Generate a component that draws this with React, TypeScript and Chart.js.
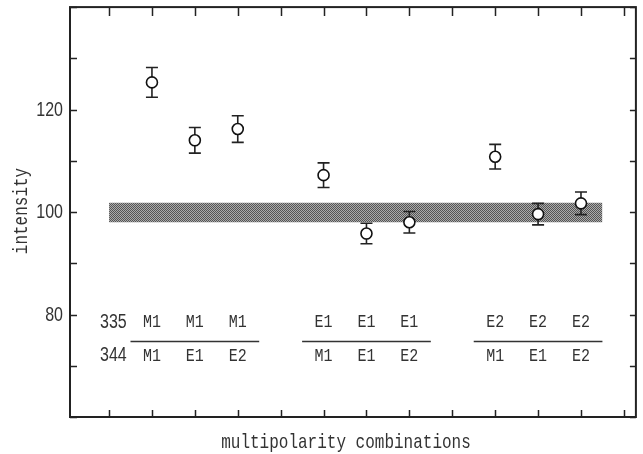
import React, { useEffect, useRef } from 'react';
import { Chart, registerables } from 'chart.js';

Chart.register(...registerables);

// ---- data ----
const positions = [2, 3, 4, 6, 7, 8, 10, 11, 12];
const intensities = [125.3, 114.0, 116.2, 107.2, 95.8, 98.0, 110.8, 99.6, 101.7];
const errors = [2.9, 2.5, 2.6, 2.4, 2.0, 2.1, 2.4, 2.1, 2.2];
const levels = ['335', '344'];
const upperLabels = ['M1', 'M1', 'M1', 'E1', 'E1', 'E1', 'E2', 'E2', 'E2'];
const lowerLabels = ['M1', 'E1', 'E2', 'M1', 'E1', 'E2', 'M1', 'E1', 'E2'];
const bandX = [1, 12.5];
const bandLow = [98.0, 98.0];
const bandHigh = [101.8, 101.8];
const labelledYTicks = [80, 100, 120];
const xTitle = 'multipolarity combinations';
const yTitle = 'intensity';

// annotation placement in data units
const upperRowY = 78.5;
const lowerRowY = 71.9;
const dividerY = 74.8;
const levelLabelX = 1.1;
const groupSize = 3;

const SANS = '"Liberation Sans", Arial, sans-serif';
const MONO = '"Liberation Mono", "DejaVu Sans Mono", monospace';
const INK = '#222';
const TEXT = '#333';
const STRETCH = 1.22;

function makePattern(): CanvasPattern | string {
  const c = document.createElement('canvas');
  c.width = 2;
  c.height = 2;
  const g = c.getContext('2d');
  if (!g) return '#808080';
  g.fillStyle = '#ababab';
  g.fillRect(0, 0, 2, 2);
  g.fillStyle = '#555';
  g.fillRect(0, 0, 1, 1);
  g.fillRect(1, 1, 1, 1);
  const p = g.createPattern(c, 'repeat');
  return p || '#808080';
}

function tallText(ctx: CanvasRenderingContext2D, s: string, x: number, y: number) {
  ctx.save();
  ctx.translate(x, y);
  ctx.scale(1, STRETCH);
  ctx.fillText(s, 0, 0);
  ctx.restore();
}

const decorPlugin = {
  id: 'decor',
  beforeDatasetDraw(chart: any, args: any) {
    if (args.index !== 0) return;
    const { ctx, scales } = chart;
    const xs = scales.x;
    const ys = scales.y;
    ctx.save();
    ctx.strokeStyle = INK;
    ctx.lineWidth = 1.6;
    positions.forEach((xv, i) => {
      const px = xs.getPixelForValue(xv);
      const top = ys.getPixelForValue(intensities[i] + errors[i]);
      const bot = ys.getPixelForValue(intensities[i] - errors[i]);
      ctx.beginPath();
      ctx.moveTo(px, top);
      ctx.lineTo(px, bot);
      ctx.moveTo(px - 6, top);
      ctx.lineTo(px + 6, top);
      ctx.moveTo(px - 6, bot);
      ctx.lineTo(px + 6, bot);
      ctx.stroke();
    });
    ctx.restore();
  },
  afterDatasetsDraw(chart: any) {
    const { ctx, scales, chartArea } = chart;
    const xs = scales.x;
    const ys = scales.y;
    const { left, right, top, bottom } = chartArea;
    ctx.save();
    // frame
    ctx.strokeStyle = INK;
    ctx.lineWidth = 2;
    ctx.strokeRect(left, top, right - left, bottom - top);
    // inward tick marks
    ctx.lineWidth = 1.5;
    ctx.beginPath();
    xs.ticks.forEach((t: any) => {
      const px = Math.round(xs.getPixelForValue(t.value)) + 0.5;
      ctx.moveTo(px, bottom);
      ctx.lineTo(px, bottom - 7);
      ctx.moveTo(px, top);
      ctx.lineTo(px, top + 9);
    });
    ys.ticks.forEach((t: any) => {
      const py = Math.round(ys.getPixelForValue(t.value)) + 0.5;
      ctx.moveTo(left, py);
      ctx.lineTo(left + 7, py);
      ctx.moveTo(right, py);
      ctx.lineTo(right - 6, py);
    });
    ctx.stroke();

    // y tick labels
    ctx.fillStyle = TEXT;
    ctx.textBaseline = 'middle';
    ctx.textAlign = 'right';
    ctx.font = `16px ${SANS}`;
    ys.ticks.forEach((t: any) => {
      if (labelledYTicks.includes(t.value)) {
        tallText(ctx, String(t.value), left - 7, ys.getPixelForValue(t.value) + 1);
      }
    });

    // annotation rows
    ctx.textAlign = 'center';
    tallText(ctx, levels[0], xs.getPixelForValue(levelLabelX), ys.getPixelForValue(upperRowY));
    tallText(ctx, levels[1], xs.getPixelForValue(levelLabelX), ys.getPixelForValue(lowerRowY));
    ctx.font = `15px ${MONO}`;
    positions.forEach((xv, i) => {
      const px = xs.getPixelForValue(xv);
      tallText(ctx, upperLabels[i], px, ys.getPixelForValue(upperRowY));
      tallText(ctx, lowerLabels[i], px, ys.getPixelForValue(lowerRowY));
    });
    ctx.strokeStyle = TEXT;
    ctx.lineWidth = 1.5;
    ctx.beginPath();
    for (let g = 0; g < positions.length; g += groupSize) {
      const x0 = xs.getPixelForValue(positions[g] - 0.5);
      const x1 = xs.getPixelForValue(positions[g + groupSize - 1] + 0.5);
      const py = Math.round(ys.getPixelForValue(dividerY)) + 0.5;
      ctx.moveTo(x0, py);
      ctx.lineTo(x1, py);
    }
    ctx.stroke();

    // axis titles
    ctx.font = `16px ${MONO}`;
    tallText(ctx, xTitle, 346, 443);
    ctx.save();
    ctx.translate(22, 211);
    ctx.rotate(-Math.PI / 2);
    ctx.scale(1, STRETCH);
    ctx.fillText(yTitle, 0, 0);
    ctx.restore();
    ctx.restore();
  },
};

export default function App() {
  const ref = useRef<HTMLCanvasElement>(null);
  useEffect(() => {
    if (!ref.current) return;
    const pattern = makePattern();
    const chart = new Chart(ref.current, {
      type: 'scatter',
      data: {
        datasets: [
          {
            data: positions.map((x, i) => ({ x, y: intensities[i] })),
            pointRadius: 5.5,
            pointBackgroundColor: '#fff',
            pointBorderColor: '#111',
            pointBorderWidth: 1.6,
            showLine: false,
          },
          {
            data: bandX.map((x, i) => ({ x, y: bandLow[i] })),
            showLine: true,
            borderWidth: 0,
            borderColor: 'rgba(0,0,0,0)',
            pointRadius: 0,
            fill: false,
          },
          {
            data: bandX.map((x, i) => ({ x, y: bandHigh[i] })),
            showLine: true,
            borderWidth: 0,
            borderColor: 'rgba(0,0,0,0)',
            pointRadius: 0,
            backgroundColor: pattern as any,
            fill: '-1',
          },
        ],
      },
      options: {
        animation: false,
        responsive: false,
        devicePixelRatio: 1,
        layout: { padding: { top: 6, right: 5, left: 0, bottom: 0 } },
        plugins: { legend: { display: false }, tooltip: { enabled: false } },
        scales: {
          x: {
            type: 'linear',
            min: 0.09,
            max: 13.28,
            ticks: { display: false, stepSize: 1, includeBounds: false },
            grid: { display: false },
            border: { display: false },
            afterFit: (s: any) => {
              s.height = 37;
            },
          },
          y: {
            type: 'linear',
            min: 60,
            max: 140,
            ticks: { display: false, stepSize: 10 },
            grid: { display: false },
            border: { display: false },
            afterFit: (s: any) => {
              s.width = 70;
            },
          },
        },
      },
      plugins: [decorPlugin],
    });
    return () => chart.destroy();
  }, []);
  return (
    <canvas
      ref={ref}
      width={643}
      height={454}
      style={{ position: 'fixed', left: 0, top: 0, width: 643, height: 454 }}
    />
  );
}
